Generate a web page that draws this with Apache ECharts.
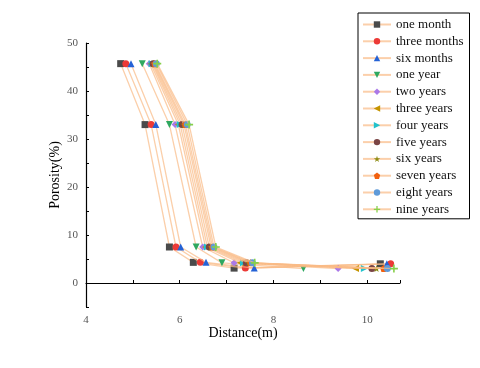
<!DOCTYPE html>
<html>
<head>
<meta charset="utf-8">
<script src="https://cdn.jsdelivr.net/npm/echarts@6/dist/echarts.min.js"></script>
<style>
    html, body {margin: 0; padding: 0; background: #fff;}
    #chart {width: 480px; height: 368px;}
</style>
</head>
<body>
<div id="chart"></div>
<script>
// 各时间段孔隙度随距离变化
var names = ['one month', 'three months', 'six months', 'one year', 'two years', 'three years',
    'four years', 'five years', 'six years', 'seven years', 'eight years', 'nine years'];

// 距离 (m)
var distOneMonth = [4.74, 5.26, 5.78, 6.29, 7.16, 10.28];
var distThreeMonths = [4.85, 5.39, 5.92, 6.44, 7.40, 10.50];
var distSixMonths = [4.96, 5.49, 6.02, 6.56, 7.59, 10.42];
var distOneYear = [5.20, 5.78, 6.35, 6.90, 8.64];
var distTwoYears = [5.35, 5.90, 6.49, 7.16, 9.38];
var distThreeYears = [5.38, 5.97, 6.55, 7.29, 9.75];
var distFourYears = [5.41, 6.01, 6.59, 7.36, 9.94];
var distFiveYears = [5.43, 6.05, 6.63, 7.42, 10.10];
var distSixYears = [5.45, 6.09, 6.67, 7.47, 10.20];
var distSevenYears = [5.47, 6.12, 6.70, 7.51, 10.35];
var distEightYears = [5.50, 6.16, 6.73, 7.55, 10.43];
var distNineYears = [5.52, 6.20, 6.77, 7.60, 10.57];

// 孔隙度 (%)
var porEarly = [45.7, 33.0, 7.5, 4.3, 3.1, 4.0];
var porLate = [45.7, 33.0, 7.5, 4.2, 3.0];

var distances = [distOneMonth, distThreeMonths, distSixMonths, distOneYear, distTwoYears, distThreeYears,
    distFourYears, distFiveYears, distSixYears, distSevenYears, distEightYears, distNineYears];

var colors = ['#4a4a4a', '#ec3a36', '#2462d6', '#2fa860', '#aa78e8', '#c49400',
    '#22c2cc', '#7a4444', '#8c8c14', '#f2600e', '#5f9ad8', '#86d04a'];

var symbols = [
    'rect',
    'circle',
    'triangle',
    'path://M0,0 L10,0 L5,9 Z',
    'diamond',
    'path://M9,0 L9,10 L0,5 Z',
    'path://M0,0 L0,10 L9,5 Z',
    'circle',
    'path://M5,0 L6.2,3.6 L10,3.6 L6.9,5.9 L8.1,9.5 L5,7.3 L1.9,9.5 L3.1,5.9 L0,3.6 L3.8,3.6 Z',
    'path://M5,0 L10,3.8 L8.1,10 L1.9,10 L0,3.8 Z',
    'circle',
    'path://M4,0 L6,0 L6,4 L10,4 L10,6 L6,6 L6,10 L4,10 L4,6 L0,6 L0,4 L4,4 Z'
];

var series = [];
for (var i = 0; i < names.length; i++) {
    var ys = i < 3 ? porEarly : porLate;
    var pts = [];
    for (var j = 0; j < distances[i].length; j++) {
        pts.push([distances[i][j], ys[j]]);
    }
    series.push({
        name: names[i],
        type: 'line',
        data: pts,
        symbol: symbols[i],
        symbolSize: i === 11 ? 8 : 7,
        lineStyle: {color: 'rgba(250,186,134,0.7)', width: 1.3},
        itemStyle: {color: colors[i]},
        emphasis: {disabled: true},
        z: 2 + i
    });
}

var myChart = echarts.init(document.getElementById('chart'));
myChart.setOption({
    animation: false,
    textStyle: {fontFamily: 'Liberation Serif'},
    grid: {left: 86, right: 80, top: 43, bottom: 61, containLabel: false},
    legend: {
        orient: 'vertical',
        left: 358,
        top: 13,
        padding: [4, 6, 2, 4],
        itemWidth: 28,
        itemHeight: 8,
        itemGap: 1.8,
        borderColor: '#000',
        borderWidth: 1,
        textStyle: {fontFamily: 'Liberation Serif', fontSize: 13, color: '#111', lineHeight: 15},
        data: names
    },
    xAxis: {
        type: 'value',
        min: 4,
        max: 10.7,
        interval: 1,
        name: 'Distance(m)',
        nameLocation: 'middle',
        nameGap: 19,
        nameMoveOverlap: false,
        nameTextStyle: {fontFamily: 'Liberation Serif', fontSize: 14, color: '#000'},
        axisLine: {lineStyle: {color: '#000', width: 1.2}},
        axisTick: {inside: true, length: 3, lineStyle: {color: '#000'}},
        splitLine: {show: false},
        axisLabel: {
            fontFamily: 'Liberation Serif', fontSize: 11, color: '#555', margin: 8,
            formatter: function (v) {
                return (Math.abs(v % 2) < 1e-6) ? v : '';
            }
        }
    },
    yAxis: {
        type: 'value',
        min: -5,
        max: 50,
        interval: 5,
        name: 'Porosity(%)',
        nameLocation: 'middle',
        nameGap: 24,
        nameMoveOverlap: false,
        nameTextStyle: {fontFamily: 'Liberation Serif', fontSize: 14, color: '#000'},
        axisLine: {show: true, lineStyle: {color: '#000', width: 1.2}},
        axisTick: {show: true, inside: true, length: 3, lineStyle: {color: '#000'}},
        splitLine: {show: false},
        axisLabel: {
            fontFamily: 'Liberation Serif', fontSize: 11, color: '#555', margin: 8,
            formatter: function (v) {
                return (v >= 0 && v % 10 === 0) ? v : '';
            }
        }
    },
    series: series
});
</script>
</body>
</html>
